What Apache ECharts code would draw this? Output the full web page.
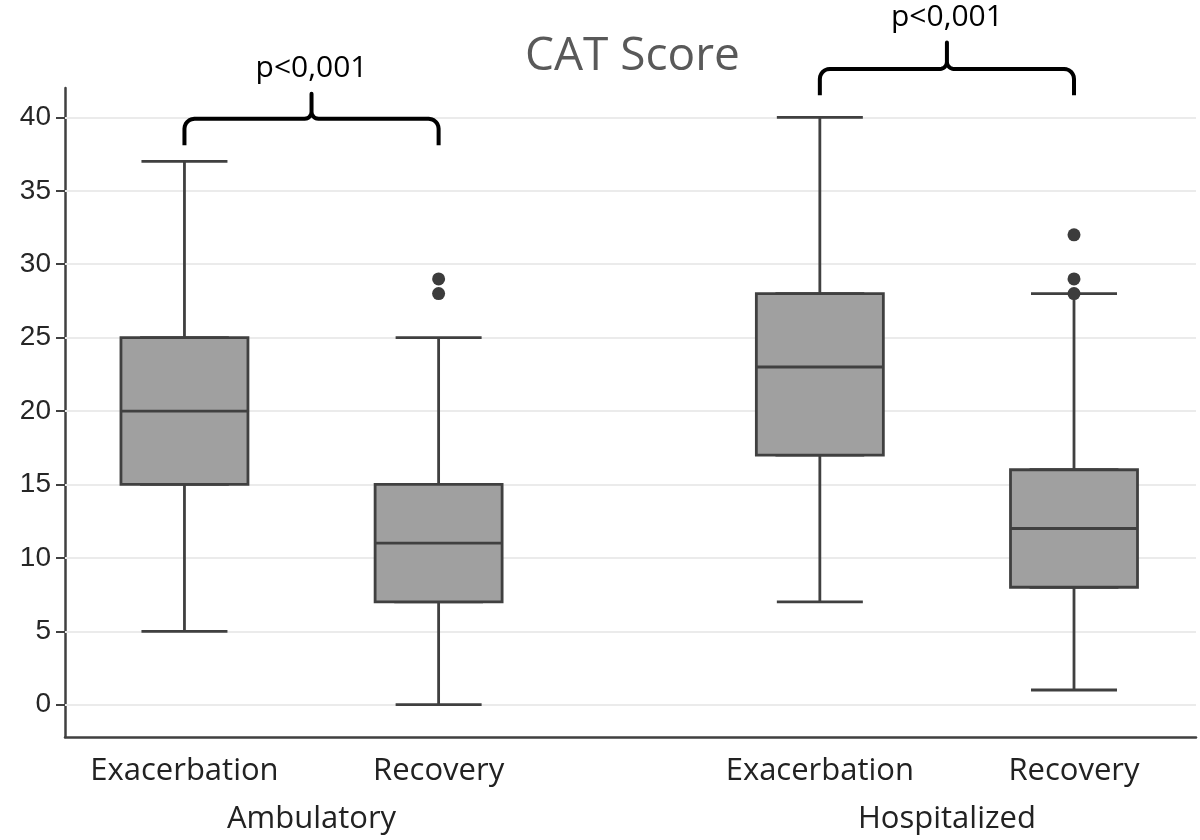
<!DOCTYPE html>
<html>
<head>
<meta charset="utf-8">
<title>CAT Score</title>
<script src="https://cdn.jsdelivr.net/npm/echarts@6/dist/echarts.min.js"></script>
<style>
  html, body { margin: 0; padding: 0; background: #fff; }
  #main { width: 1200px; height: 840px; }
</style>
</head>
<body>
<div id="main"></div>
<script>
// positions of the boxes on the x scale (gap between the two groups)
var boxPos = [0, 1, 2.5, 3.5];
var boxNames = ['Exacerbation', 'Recovery', 'Exacerbation', 'Recovery'];
var groupPos = [0.5, 3];
var groupNames = ['Ambulatory', 'Hospitalized'];

// [min, Q1, median, Q3, max]
var stats = [
  [5, 15, 20, 25, 37],
  [0, 7, 11, 15, 25],
  [7, 17, 23, 28, 40],
  [1, 8, 12, 16, 28]
];
// outliers: [box index, value]
var outliers = [
  [1, 28], [1, 29],
  [3, 28], [3, 29], [3, 32]
];
var yTicks = [0, 5, 10, 15, 20, 25, 30, 35, 40];

// brackets: from box a to box b, y of top line, y of ends, y of cusp, y of text
var brackets = [
  { a: 0, b: 1, top: 39.9, end: 38.1, cusp: 41.6, textY: 43.3, text: 'p<0,001' },
  { a: 2, b: 3, top: 43.3, end: 41.5, cusp: 45.1, textY: 46.8, text: 'p<0,001' }
];

var chart = echarts.init(document.getElementById('main'));

var whiskerData = stats.map(function (s, i) { return [boxPos[i]].concat(s); });
// wide box only: whiskers collapsed onto the box edges
var boxData = stats.map(function (s, i) { return [boxPos[i], s[1], s[1], s[2], s[3], s[3]]; });
var outlierData = outliers.map(function (o) { return [boxPos[o[0]], o[1]]; });

var xMin = -0.47, xMax = 3.98;

chart.setOption({
  animation: false,
  title: {
    text: 'CAT Score',
    left: 520,
    top: 29,
    textStyle: { fontFamily: 'Open Sans', fontSize: 46, fontWeight: 'normal', color: '#595959' }
  },
  grid: { left: 65, right: 4, top: 88, bottom: 103 },
  xAxis: [{
    type: 'value',
    min: xMin,
    max: xMax,
    axisLine: { show: true, onZero: false, lineStyle: { color: '#404040', width: 2.5 } },
    axisTick: { show: false },
    splitLine: { show: false },
    axisLabel: {
      customValues: boxPos,
      margin: 19,
      fontFamily: 'Open Sans',
      fontSize: 31,
      color: '#222',
      formatter: function (v) {
        var i = boxPos.indexOf(v);
        return i >= 0 ? boxNames[i] : '';
      }
    }
  }, {
    type: 'value',
    min: xMin,
    max: xMax,
    position: 'bottom',
    offset: 48,
    axisLine: { show: false, onZero: false },
    axisTick: { show: false },
    splitLine: { show: false },
    axisLabel: {
      customValues: groupPos,
      margin: 19,
      fontFamily: 'Open Sans',
      fontSize: 31,
      color: '#222',
      formatter: function (v) {
        var i = groupPos.indexOf(v);
        return i >= 0 ? groupNames[i] : '';
      }
    }
  }],
  yAxis: {
    type: 'value',
    min: -2.2,
    max: 42,
    axisLine: { show: true, onZero: false, lineStyle: { color: '#404040', width: 2.5 } },
    axisTick: { show: true, customValues: yTicks, length: 9, lineStyle: { color: '#404040', width: 2 } },
    splitLine: { show: false },
    axisLabel: {
      customValues: yTicks,
      margin: 14,
      fontFamily: 'Liberation Sans',
      fontSize: 28,
      color: '#262626'
    }
  },
  series: [{
    // horizontal grid lines
    type: 'scatter',
    data: [],
    z: 1,
    silent: true,
    markLine: {
      silent: true,
      z: 1,
      symbol: 'none',
      label: { show: false },
      lineStyle: { color: '#ebebeb', width: 2, type: 'solid' },
      data: yTicks.map(function (t) { return { yAxis: t }; })
    }
  }, {
    type: 'boxplot',
    xAxisIndex: 0,
    z: 2,
    boxWidth: [86, 86],
    itemStyle: { color: '#a0a0a0', borderColor: '#404040', borderWidth: 2.8 },
    data: whiskerData
  }, {
    type: 'boxplot',
    xAxisIndex: 1,
    z: 3,
    boxWidth: [127, 127],
    itemStyle: { color: '#a0a0a0', borderColor: '#404040', borderWidth: 2.8 },
    data: boxData
  }, {
    type: 'scatter',
    z: 5,
    symbolSize: 13,
    itemStyle: { color: '#3c3c3c', opacity: 1 },
    data: outlierData
  }]
});

// curly brackets with p-values, placed in data coordinates
var px = function (x, y) { return chart.convertToPixel({ xAxisIndex: 0, yAxisIndex: 0 }, [x, y]); };

// quarter arc points from angle a0 to a1 around (cx, cy)
function arc(cx, cy, r, a0, a1) {
  var pts = [];
  for (var k = 0; k <= 6; k++) {
    var a = a0 + (a1 - a0) * k / 6;
    pts.push([cx + r * Math.cos(a), cy + r * Math.sin(a)]);
  }
  return pts;
}

var graphics = [];
brackets.forEach(function (b) {
  var xa = px(boxPos[b.a], b.top)[0];
  var xb = px(boxPos[b.b], b.top)[0];
  var xm = (xa + xb) / 2;
  var yt = px(0, b.top)[1];
  var ye = px(0, b.end)[1];
  var yc = px(0, b.cusp)[1];
  var r = 10, c = 7;
  var P = Math.PI;
  var pts = [[xa, ye]]
    .concat(arc(xa + r, yt + r, r, P, 1.5 * P))
    .concat(arc(xm - c, yt - c, c, 0.5 * P, 0))
    .concat([[xm, yc]])
    .concat(arc(xm + c, yt - c, c, P, 0.5 * P))
    .concat(arc(xb - r, yt + r, r, 1.5 * P, 2 * P))
    .concat([[xb, ye]]);
  graphics.push({
    type: 'polyline',
    shape: { points: pts },
    style: { fill: null, stroke: '#000', lineWidth: 4, lineJoin: 'round' },
    z: 10
  });
  graphics.push({
    type: 'text',
    x: xm,
    y: px(0, b.textY)[1],
    style: {
      text: b.text,
      fontFamily: 'Open Sans',
      fontSize: 30,
      fill: '#000',
      align: 'center',
      verticalAlign: 'middle'
    },
    z: 10
  });
});
chart.setOption({ graphic: graphics });
</script>
</body>
</html>
